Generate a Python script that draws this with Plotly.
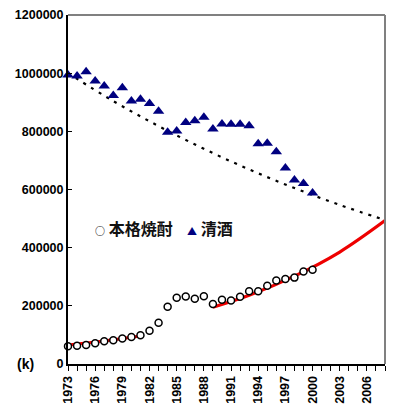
import plotly.graph_objects as go

years = list(range(1973, 2001))
shochu = [61000, 63000, 65000, 71000, 78000, 82000, 88000, 93000, 99000,
          114000, 142000, 197000, 228000, 232000, 224000, 233000,
          206000, 221000, 218000, 231000, 250000, 250000, 269000, 287000,
          292000, 297000, 318000, 324000]
sake = [994000, 990000, 1005000, 973000, 956000, 923000, 950000, 904000,
        910000, 896000, 869000, 797000, 801000, 830000, 836000, 848000,
        808000, 825000, 824000, 824000, 819000, 757000, 759000, 730000,
        674000, 633000, 621000, 588000]

# trend lines
sake_trend_years = [1973, 1978, 1983, 1988, 1993, 1998, 2003, 2008]
sake_trend = [1000000, 904000, 818000, 740000, 669000, 605000, 547000, 495000]
shochu_trend1_years = [1973, 1977, 1981]
shochu_trend1 = [65000, 79000, 96000]
shochu_trend2_years = [1989, 1993, 1998, 2003, 2008]
shochu_trend2 = [195000, 236000, 302000, 385000, 493000]

tick_years = list(range(1973, 2007, 3))
y_ticks = list(range(0, 1200001, 200000))

fig = go.Figure()

fig.add_trace(go.Scatter(x=sake_trend_years, y=sake_trend, mode="lines",
                         line=dict(color="black", width=2.2, dash="3px,6px", shape="spline"),
                         showlegend=False, cliponaxis=False))
fig.add_trace(go.Scatter(x=shochu_trend1_years, y=shochu_trend1, mode="lines",
                         line=dict(color="#ee0000", width=3, shape="spline"),
                         showlegend=False, cliponaxis=False))
fig.add_trace(go.Scatter(x=shochu_trend2_years, y=shochu_trend2, mode="lines",
                         line=dict(color="#ee0000", width=3.2, shape="spline"),
                         showlegend=False, cliponaxis=False))
fig.add_trace(go.Scatter(x=years, y=shochu, mode="markers", name="本格焼酎",
                         marker=dict(symbol="circle", size=7, color="white",
                                     line=dict(color="black", width=1.5)),
                         showlegend=False, cliponaxis=False))
fig.add_trace(go.Scatter(x=years, y=sake, mode="markers", name="清酒",
                         marker=dict(symbol="triangle-up", size=10, color="#000080",
                                     line=dict(width=0)),
                         showlegend=False, cliponaxis=False))

legend_font = dict(size=16, weight="bold", family="Noto Sans CJK JP", color="#111")

fig.update_layout(
    width=398, height=408,
    margin=dict(l=68, r=13, t=15, b=44, autoexpand=False),
    paper_bgcolor="white", plot_bgcolor="white",
    font=dict(family="Liberation Sans, Arial", color="black"),
    showlegend=False,
    shapes=[
        dict(type="line", xref="paper", yref="paper", x0=0, x1=1, y0=1, y1=1,
             line=dict(color="#808080", width=2)),
        dict(type="line", xref="paper", yref="paper", x0=1, x1=1, y0=0, y1=1,
             line=dict(color="#808080", width=2)),
    ],
    annotations=[
        dict(text="(k)", xref="paper", yref="paper", x=-0.10, y=0.0,
             xanchor="right", yanchor="middle", showarrow=False,
             font=dict(size=14, weight="bold", family="Liberation Sans")),
        dict(text="<span style='font-size:10px'>○</span> 本格焼酎", xref="paper", yref="paper",
             x=0.078, y=0.39, xanchor="left", yanchor="middle", showarrow=False,
             font=legend_font),
        dict(text="<span style='font-size:10px;color:#000080'>▲</span> 清酒", xref="paper", yref="paper",
             x=0.37, y=0.39, xanchor="left", yanchor="middle", showarrow=False,
             font=legend_font),
    ],
)

fig.update_xaxes(range=[1973, 2008], tickvals=tick_years, ticktext=[str(t) for t in tick_years],
                 tickangle=-90, showline=True, linecolor="black", linewidth=2,
                 ticks="outside", ticklen=5, tickcolor="black", tickwidth=1,
                 minor=dict(dtick=1, tick0=1973, ticks="outside", ticklen=5, tickcolor="black", tickwidth=1),
                 showgrid=False, zeroline=False, automargin=False,
                 tickfont=dict(size=12.5, weight="bold", family="Liberation Sans"))
fig.update_yaxes(range=[0, 1200000], tickvals=y_ticks, tickformat="d",
                 showline=True, linecolor="black", linewidth=2,
                 ticks="inside", ticklen=4, tickcolor="black",
                 showgrid=False, zeroline=False, automargin=False,
                 tickfont=dict(size=12.5, weight="bold", family="Liberation Sans"))

fig.write_html("out.html", config={"displayModeBar": False},
               post_script="document.body.style.margin='0';")
